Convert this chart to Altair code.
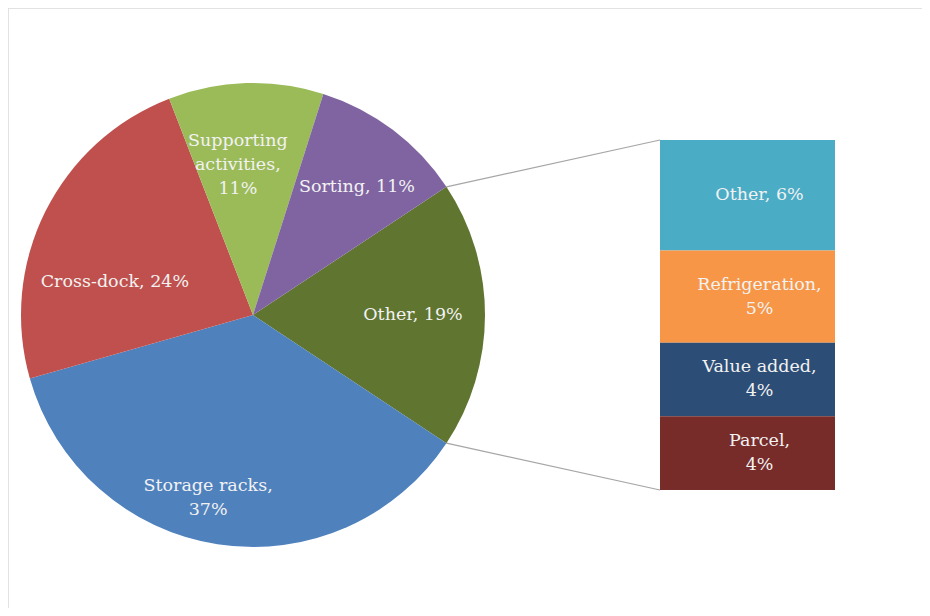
import math
import altair as alt
import pandas as pd

# ---- data ----
pie_labels = ["Other", "Storage racks", "Cross-dock", "Supporting activities", "Sorting"]
pie_values = [19, 37, 24, 11, 11]
pie_text = ["Other, 19%", "Storage racks,\n37%", "Cross-dock, 24%", "Supporting\nactivities,\n11%", "Sorting, 11%"]

bar_labels = ["Other", "Refrigeration", "Value added", "Parcel"]
bar_values = [6, 5, 4, 4]
bar_text = ["Other, 6%", "Refrigeration,\n5%", "Value added,\n4%", "Parcel,\n4%"]

# ---- style / layout ----
pie_colors = ["#5F7530", "#4F81BD", "#C0504D", "#9BBB59", "#8064A2"]
bar_colors = ["#4BACC6", "#F79646", "#2C4D75", "#772C2A"]
W, H = 914, 600
CX, CY, R = 245, 307, 232
BAR_X0, BAR_X1, BAR_TOP, BAR_BOT = 652, 827, 132, 482
FONT = "DejaVu Serif"
FS = 17.5
LH = 24
TXT = "#F2F2F2"
# label radius and angular nudge (degrees) per slice
label_style = {
    "Other": (160, 0),
    "Storage racks": (188, 5),
    "Cross-dock": (142, -13),
    "Supporting activities": (151, -4),
    "Sorting": (165, 2),
}

total = sum(pie_values)
split_frac = pie_values[0] / total
start = math.pi / 2 - math.pi * split_frac  # split slice centred at 3 o'clock

pie = pd.DataFrame({"label": pie_labels, "value": pie_values, "text": pie_text,
                    "order": list(range(len(pie_labels)))})

# label positions derived from slice mid-angles
cum = 0.0
lx, ly = [], []
for lab, v, t in zip(pie_labels, pie_values, pie_text):
    mid = start + 2 * math.pi * (cum + v / 2) / total
    cum += v
    r, nudge = label_style[lab]
    a = mid + math.radians(nudge)
    nl = t.count("\n")
    lx.append(CX + r * math.sin(a))
    ly.append(CY - r * math.cos(a) - nl * LH / 2)
pie["lx"] = lx
pie["ly"] = ly

arcs = alt.Chart(pie).mark_arc(radius=R, stroke=None).encode(
    x=alt.value(CX), y=alt.value(CY),
    theta=alt.Theta("value:Q", stack=True,
                    scale=alt.Scale(range=[start, start + 2 * math.pi])),
    order=alt.Order("order:Q"),
    color=alt.Color("label:N", scale=alt.Scale(domain=pie_labels, range=pie_colors), legend=None),
)

pie_lbl = alt.Chart(pie).mark_text(font=FONT, fontSize=FS, color=TXT, lineBreak="\n",
                                   lineHeight=LH, align="center", baseline="middle").encode(
    x=alt.X("lx:Q", scale=None, axis=None), y=alt.Y("ly:Q", scale=None, axis=None),
    text="text:N",
)

# connector lines from the split slice edges to the bar corners
a0 = start
a1 = start + 2 * math.pi * split_frac
conn = pd.DataFrame({
    "x": [CX + R * math.sin(a0), CX + R * math.sin(a1)],
    "y": [CY - R * math.cos(a0), CY - R * math.cos(a1)],
    "x2": [BAR_X0, BAR_X0],
    "y2": [BAR_TOP, BAR_BOT],
})
lines = alt.Chart(conn).mark_rule(color="#A6A6A6", strokeWidth=1.2).encode(
    x=alt.X("x:Q", scale=None, axis=None), y=alt.Y("y:Q", scale=None, axis=None),
    x2="x2:Q", y2="y2:Q",
)

bar_total = sum(bar_values)
px_unit = bar_total / (BAR_BOT - BAR_TOP)
bar = pd.DataFrame({"label": bar_labels, "value": bar_values, "text": bar_text,
                    "order": list(range(len(bar_labels))),
                    "nl": [t.count("\n") for t in bar_text]})
bar_base = alt.Chart(bar).transform_stack(
    stack="value", groupby=[], as_=["v0", "v1"], sort=[alt.SortField("order", "ascending")]
).transform_calculate(
    mid=f"(datum.v0 + datum.v1) / 2 - datum.nl * {LH / 2} * {px_unit}"
)

yscale = alt.Scale(domain=[0, bar_total], range=[BAR_TOP, BAR_BOT])
bars = bar_base.mark_rect().encode(
    x=alt.value(BAR_X0), x2=alt.value(BAR_X1),
    y=alt.Y("v0:Q", scale=yscale, axis=None), y2="v1:Q",
    color=alt.Color("label:N", scale=alt.Scale(domain=bar_labels, range=bar_colors), legend=None),
)
bar_lbl = bar_base.mark_text(font=FONT, fontSize=FS, color=TXT, lineBreak="\n",
                             lineHeight=LH, align="center", baseline="middle", dx=12).encode(
    x=alt.value((BAR_X0 + BAR_X1) / 2),
    y=alt.Y("mid:Q", scale=yscale, axis=None),
    text="text:N",
)

border = pd.DataFrame({"k": [0]})
top_b = alt.Chart(border).mark_rule(color="#D9D9D9", strokeWidth=1.5).encode(
    x=alt.value(0), x2=alt.value(W + 10), y=alt.value(0))
left_b = alt.Chart(border).mark_rule(color="#D9D9D9", strokeWidth=1.5).encode(
    x=alt.value(0), y=alt.value(0), y2=alt.value(H + 10))

chart = alt.layer(top_b, left_b, lines, arcs, pie_lbl, bars, bar_lbl).resolve_scale(
    x="independent", y="independent", color="independent"
).properties(width=W, height=H, padding=0, autosize=alt.AutoSizeParams(type="none")
).configure_view(stroke=None)

chart.save("out.html", embed_options={"renderer": "svg", "actions": False})
